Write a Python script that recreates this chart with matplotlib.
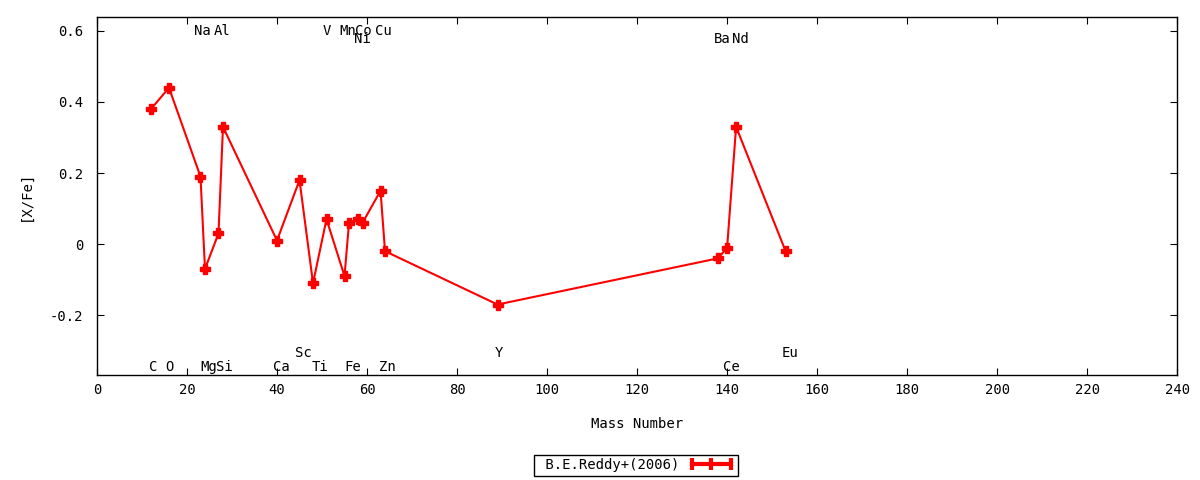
import matplotlib.pyplot as plt
from matplotlib.lines import Line2D

# element, mass number, [X/Fe]  (B.E.Reddy+ 2006)
elements = ['C', 'O', 'Na', 'Mg', 'Al', 'Si', 'Ca', 'Sc', 'Ti', 'V', 'Mn', 'Fe',
            'Ni', 'Co', 'Cu', 'Zn', 'Y', 'Ba', 'Ce', 'Nd', 'Eu']
mass = [12, 16, 23, 24, 27, 28, 40, 45, 48, 51, 55, 56, 58, 59, 63, 64, 89, 138, 140, 142, 153]
xfe = [0.38, 0.44, 0.19, -0.07, 0.03, 0.33, 0.01, 0.18, -0.11, 0.07, -0.09, 0.06,
       0.07, 0.06, 0.15, -0.02, -0.17, -0.04, -0.01, 0.33, -0.02]

# element label positions (x, baseline y) as they sit in the chart
label_x = [12.4, 16.1, 23.4, 24.9, 27.9, 28.4, 41.0, 45.8, 49.5, 51.0, 55.8, 56.9,
           58.9, 59.1, 63.6, 64.6, 89.4, 139.0, 141.0, 143.0, 154.0]
label_y = [-0.357, -0.357, 0.589, -0.357, 0.589, -0.357, -0.357, -0.317, -0.357, 0.589, 0.589, -0.357,
           0.566, 0.589, 0.589, -0.357, -0.317, 0.566, -0.357, 0.566, -0.317]

plt.rcParams['font.family'] = ['DejaVu Sans Mono']
plt.rcParams['font.size'] = 10

fig = plt.figure(figsize=(12, 4.8), dpi=100)
ax = fig.add_axes([0.0808, 0.219, 0.9002, 0.7456])

ax.plot(mass, xfe, color='red', lw=1.5, marker='P', ms=7.5, mec='red', mfc='red')

for name, lx, ly in zip(elements, label_x, label_y):
    ax.text(lx, ly, name, ha='center', va='baseline')

ax.set_xlim(0, 240)
ax.set_ylim(-0.368, 0.639)
ax.set_xticks(range(0, 241, 20))
ax.set_yticks([-0.2, 0, 0.2, 0.4, 0.6])
ax.set_yticklabels(['-0.2', '0', '0.2', '0.4', '0.6'])
ax.tick_params(axis='x', direction='in', top=True, length=5, pad=6)
ax.tick_params(axis='y', direction='in', right=True, length=5, pad=10)
for s in ax.spines.values():
    s.set_linewidth(1)

ax.set_xlabel('Mass Number', labelpad=14)
ax.set_ylabel('[X/Fe]', labelpad=12)

handle = Line2D([], [], color='red', lw=3, marker='|', ms=9, mew=3)
leg = fig.legend([handle], [' B.E.Reddy+(2006)'], loc='center', bbox_to_anchor=(0.530, 0.031),
                 markerfirst=False, numpoints=3, handlelength=3.4, fancybox=False,
                 framealpha=1, edgecolor='black', borderpad=0.25, borderaxespad=0,
                 handletextpad=0.6)
leg.get_frame().set_linewidth(1)

fig.savefig('out.png', dpi=100)
